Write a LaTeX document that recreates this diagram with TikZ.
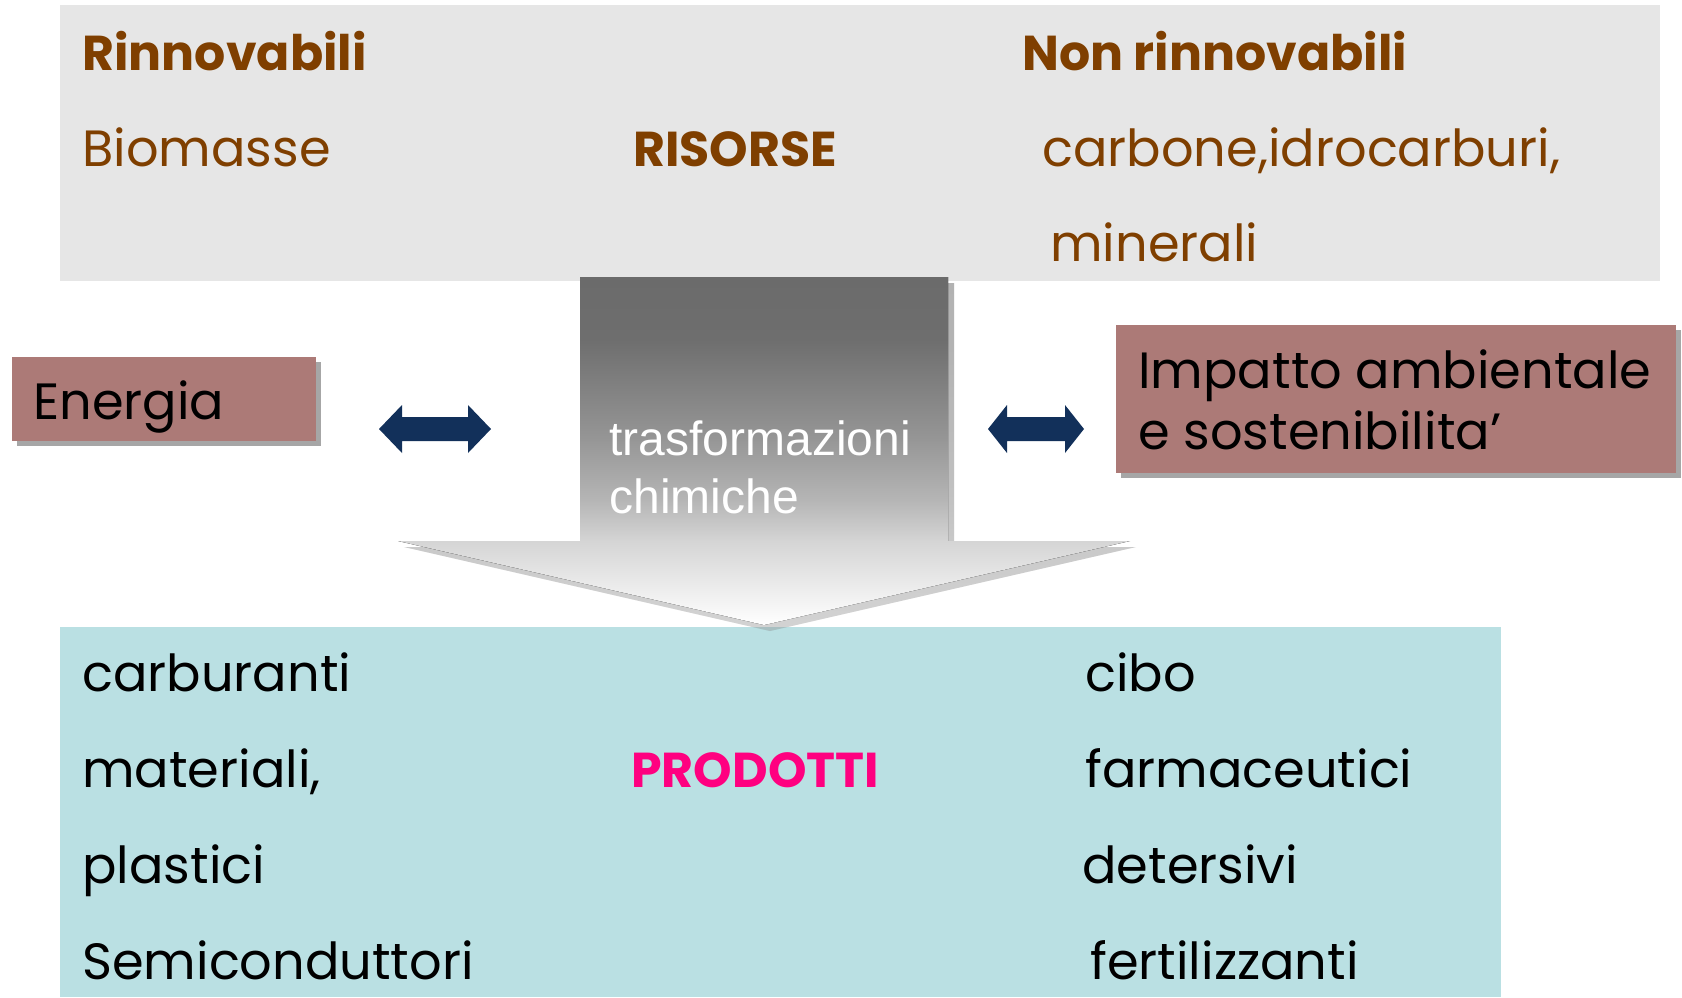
\documentclass[tikz,border=0pt]{standalone}
\usepackage{fontspec}
\setmainfont{Poppins}
\newfontfamily\helvfont{Liberation Sans}
\usetikzlibrary{shadows}
\definecolor{resBrown}{RGB}{127,63,0}
\definecolor{resGray}{RGB}{230,230,230}
\definecolor{prodCyan}{RGB}{186,224,227}
\definecolor{prodPink}{RGB}{255,0,128}
\definecolor{boxRose}{RGB}{172,122,119}
\definecolor{arrNavy}{RGB}{18,48,90}
\definecolor{shdGray}{RGB}{166,166,166}
\definecolor{fadeA}{RGB}{107,107,107}
\definecolor{fadeB}{RGB}{110,110,110}
\definecolor{fadeC}{RGB}{149,149,149}
\definecolor{fadeD}{RGB}{181,181,181}
\definecolor{fadeE}{RGB}{213,213,213}
\pgfdeclareverticalshading{trasfFade}{100bp}{color(0bp)=(white); color(25bp)=(white);
  color(37bp)=(fadeE); color(43bp)=(fadeD); color(52bp)=(fadeC); color(66bp)=(fadeB);
  color(75bp)=(fadeA); color(100bp)=(fadeA)}
\tikzset{
    txt/.style={anchor=base west, inner sep=0pt, font=\fontsize{25.5}{30}\selectfont},
    res/.style={txt, text=resBrown},
    resHead/.style={res, font=\fontsize{24.5}{30}\selectfont\bfseries},
    trasf/.style={anchor=base west, inner sep=0pt, text=white, font=\helvfont\fontsize{24}{28}\selectfont},
    panel/.style={anchor=north west, inner sep=0pt},
    rose/.style={panel, fill=boxRose, drop shadow={shadow xshift=2.5pt, shadow yshift=-2.5pt, fill=shdGray, opacity=1}}
}
% double block arrow: left tip x, right tip x, centre y, head length
\newcommand{\dblarrow}[4]{%
  \fill[arrNavy] (#1,#3) -- ++(#4,-24) -- ++(0,12) -- (#2-#4,#3-12) -- ++(0,-12) -- (#2,#3)
    -- (#2-#4,#3+24) -- ++(0,-12) -- (#1+#4,#3+12) -- ++(0,12) -- cycle;}

\begin{document}
\begin{tikzpicture}[x=0.5pt,y=-0.5pt]
\useasboundingbox (0,0) rectangle (1682,997);
% panels
\node[panel,fill=resGray,minimum width=800pt,minimum height=138pt] (risorse) at (60,5) {};
\node[panel,fill=prodCyan,minimum width=720.5pt,minimum height=185pt] (prodotti) at (60,627) {};
% big arrow
\fill[shading=trasfFade,opacity=0.22] (586,283) -- (954,283) -- (954,547) -- (1136,547) -- (770,631)
    -- (404,547) -- (586,547) -- cycle;
\fill[shading=trasfFade] (580,277) -- (948,277) -- (948,541) -- (1130,541) -- (764,625)
    -- (398,541) -- (580,541) -- cycle;
\node[trasf] (tr1) at (609,455) {trasformazioni};
\node[trasf] (tr2) at (609,513) {chimiche};
% side boxes
\node[rose,minimum width=152pt,minimum height=42pt] (energia) at (12,357) {};
\node[rose,minimum width=280pt,minimum height=74pt] (impatto) at (1116,325) {};
\node[txt] (ene) at (33,419) {Energia};
\node[txt] (imp1) at (1138,388) {Impatto ambientale};
\node[txt] (imp2) at (1138,449) {e sostenibilita’};
\dblarrow{379}{491}{429}{23}
\dblarrow{988}{1084}{429}{19}
% risorse
\node[resHead] (rin) at (82,70) {Rinnovabili};
\node[resHead] (nonrin) at (1022,70) {Non rinnovabili};
\node[res] (bio) at (82,166) {Biomasse};
\node[resHead] (ris) at (633,166) {RISORSE};
\node[res] (carb) at (1042,166) {carbone,idrocarburi,};
\node[res] (mine) at (1050,261) {minerali};
% prodotti
\node[txt] (p1) at (82,691) {carburanti};
\node[txt] (p2) at (82,787) {materiali,};
\node[txt] (p3) at (82,883) {plastici};
\node[txt] (p4) at (82,979) {Semiconduttori};
\node[txt,text=prodPink,font=\fontsize{24.5}{30}\selectfont\bfseries] (prod) at (631,787) {PRODOTTI};
\node[txt] (q1) at (1085,691) {cibo};
\node[txt] (q2) at (1085,787) {farmaceutici};
\node[txt] (q3) at (1082,883) {detersivi};
\node[txt] (q4) at (1090,979) {fertilizzanti};
\end{tikzpicture}
\end{document}
